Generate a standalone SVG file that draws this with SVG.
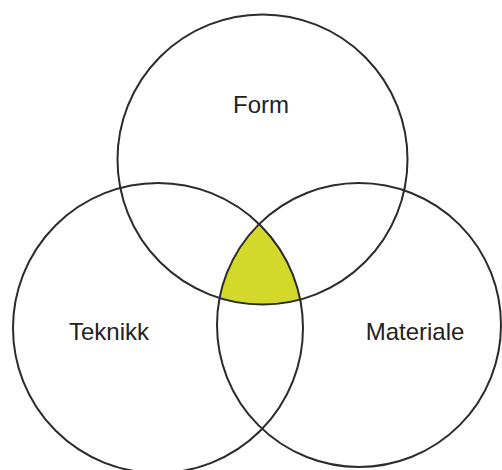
<svg xmlns="http://www.w3.org/2000/svg" width="502" height="470" viewBox="0 0 502 470">
  <style>
    .ring { fill: none; stroke: #2b2b2b; stroke-width: 2; }
    .label { font-family: "Liberation Sans", Arial, sans-serif; font-size: 24px; fill: #222; text-anchor: middle; }
  </style>
  <defs>
    <clipPath id="clipL"><circle cx="158" cy="328" r="145"/></clipPath>
    <clipPath id="clipR"><circle cx="359" cy="325" r="142"/></clipPath>
  </defs>
  <rect width="502" height="470" fill="#ffffff"/>
  <g id="center-overlap" clip-path="url(#clipL)">
    <g clip-path="url(#clipR)">
      <circle cx="262.5" cy="159.5" r="145" fill="#d3d82a"/>
    </g>
  </g>
  <g id="form">
    <circle class="ring" cx="262.5" cy="159.5" r="145"/>
    <text class="label" x="261" y="113">Form</text>
  </g>
  <g id="teknikk">
    <circle class="ring" cx="158" cy="328" r="145"/>
    <text class="label" x="109" y="340">Teknikk</text>
  </g>
  <g id="materiale">
    <circle class="ring" cx="359" cy="325" r="142"/>
    <text class="label" x="415" y="340">Materiale</text>
  </g>
</svg>
